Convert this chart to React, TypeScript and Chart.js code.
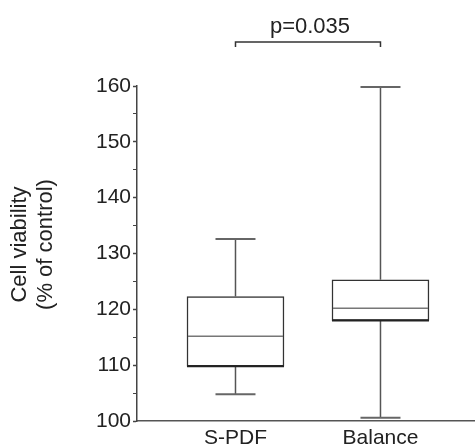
import { useEffect, useRef } from 'react';
import { Chart, registerables } from 'chart.js';

Chart.register(...registerables);

// ---- data ----
const categories = ['S-PDF', 'Balance'];
const positions = [1, 2];
const whiskerLow = [104.8, 100.6];
const q1 = [109.8, 118.0];
const median = [115.2, 120.2];
const q3 = [122.3, 125.3];
const whiskerHigh = [132.6, 159.8];
const pLabel = 'p=0.035';
const yTitle = ['Cell viability', '(% of control)'];
const yMin = 100;
const yMax = 160;
const yStep = 5;
const yLabelStep = 10;

const FONT = '"Liberation Sans", Arial, Helvetica, sans-serif';

const boxExtras = {
  id: 'boxExtras',
  afterDatasetsDraw(chart: any) {
    const { ctx, chartArea } = chart;
    const x = chart.scales.x;
    const y = chart.scales.y;
    const meta = chart.getDatasetMeta(0);
    const line = (x1: number, y1: number, x2: number, y2: number) => {
      ctx.beginPath();
      ctx.moveTo(x1, y1);
      ctx.lineTo(x2, y2);
      ctx.stroke();
    };
    ctx.save();
    positions.forEach((p, i) => {
      const cx = x.getPixelForValue(p);
      const bar = meta.data[i];
      const half = bar ? bar.width / 2 : 48;
      const capHalf = 20;
      // whiskers
      ctx.strokeStyle = '#555';
      ctx.lineWidth = 1.5;
      line(cx, y.getPixelForValue(q3[i]), cx, y.getPixelForValue(whiskerHigh[i]));
      line(cx, y.getPixelForValue(q1[i]), cx, y.getPixelForValue(whiskerLow[i]));
      // caps
      ctx.strokeStyle = '#666';
      ctx.lineWidth = 2;
      line(cx - capHalf, y.getPixelForValue(whiskerHigh[i]), cx + capHalf, y.getPixelForValue(whiskerHigh[i]));
      line(cx - capHalf, y.getPixelForValue(whiskerLow[i]), cx + capHalf, y.getPixelForValue(whiskerLow[i]));
      // median
      ctx.strokeStyle = '#777';
      ctx.lineWidth = 1.5;
      line(cx - half + 1, y.getPixelForValue(median[i]), cx + half - 1, y.getPixelForValue(median[i]));
      // bold lower box edge
      ctx.strokeStyle = '#222';
      ctx.lineWidth = 2;
      line(cx - half, y.getPixelForValue(q1[i]), cx + half, y.getPixelForValue(q1[i]));
    });

    // significance bracket
    const x1 = x.getPixelForValue(positions[0]);
    const x2 = x.getPixelForValue(positions[1]);
    const by = chartArea.top - 44;
    ctx.strokeStyle = '#333';
    ctx.lineWidth = 1.5;
    ctx.beginPath();
    ctx.moveTo(x1, by + 5);
    ctx.lineTo(x1, by);
    ctx.lineTo(x2, by);
    ctx.lineTo(x2, by + 5);
    ctx.stroke();
    ctx.fillStyle = '#222';
    ctx.font = `22px ${FONT}`;
    ctx.textAlign = 'center';
    ctx.textBaseline = 'alphabetic';
    ctx.fillText(pLabel, (x1 + x2) / 2 + 2, by - 9);

    // y axis title
    const cy = (chartArea.top + chartArea.bottom) / 2 - 9;
    ctx.save();
    ctx.translate(20, cy);
    ctx.rotate(-Math.PI / 2);
    ctx.textBaseline = 'middle';
    ctx.textAlign = 'center';
    ctx.font = `22px ${FONT}`;
    yTitle.forEach((t, k) => ctx.fillText(t, 0, k * 26));
    ctx.restore();
    ctx.restore();
  },
};

export default function App() {
  const ref = useRef<HTMLCanvasElement | null>(null);
  useEffect(() => {
    if (!ref.current) return;
    const chart = new Chart(ref.current, {
      type: 'bar',
      data: {
        datasets: [
          {
            data: positions.map((p, i) => ({ x: p, y: [q1[i], q3[i]] })) as any,
            backgroundColor: '#ffffff',
            borderColor: '#333333',
            borderWidth: 1.5,
            borderSkipped: false,
            barThickness: 97,
          },
        ],
      },
      options: {
        animation: false,
        responsive: false,
        events: [],
        layout: { padding: { top: 86, right: 1, left: 0, bottom: 0 } },
        plugins: { legend: { display: false }, tooltip: { enabled: false } },
        scales: {
          x: {
            type: 'linear',
            offset: false,
            bounds: 'data',
            min: 0.3207,
            max: 2.645,
            afterBuildTicks: (s: any) => {
              s.ticks = positions.map((v) => ({ value: v }));
            },
            afterFit: (s: any) => {
              s.height = 24;
            },
            grid: { display: false, offset: false },
            border: { display: true, color: '#555', width: 1.5 },
            ticks: {
              padding: -3,
              color: '#222',
              font: { family: FONT, size: 21 },
              callback: (v: any) => {
                const k = positions.indexOf(Number(v));
                return k >= 0 ? categories[k] : '';
              },
            },
          },
          y: {
            type: 'linear',
            min: yMin,
            max: yMax,
            afterFit: (s: any) => {
              s.width = 137;
            },
            grid: {
              display: true,
              drawOnChartArea: false,
              drawTicks: true,
              tickLength: 4,
              tickColor: '#444',
              tickWidth: (c: any) => (c.tick && c.tick.value % yLabelStep === 0 ? 1.5 : 1),
            },
            border: { display: true, color: '#444', width: 1.5 },
            ticks: {
              stepSize: yStep,
              autoSkip: false,
              padding: 2,
              color: '#222',
              font: { family: FONT, size: 21 },
              callback: (v: any) => (Number(v) % yLabelStep === 0 ? String(v) : ''),
            },
          },
        },
      },
      plugins: [boxExtras],
    });
    return () => chart.destroy();
  }, []);
  return (
    <div style={{ position: 'absolute', left: 0, top: 0, width: 475, height: 445, background: '#fff' }}>
      <canvas ref={ref} width={475} height={445} style={{ display: 'block' }} />
    </div>
  );
}
